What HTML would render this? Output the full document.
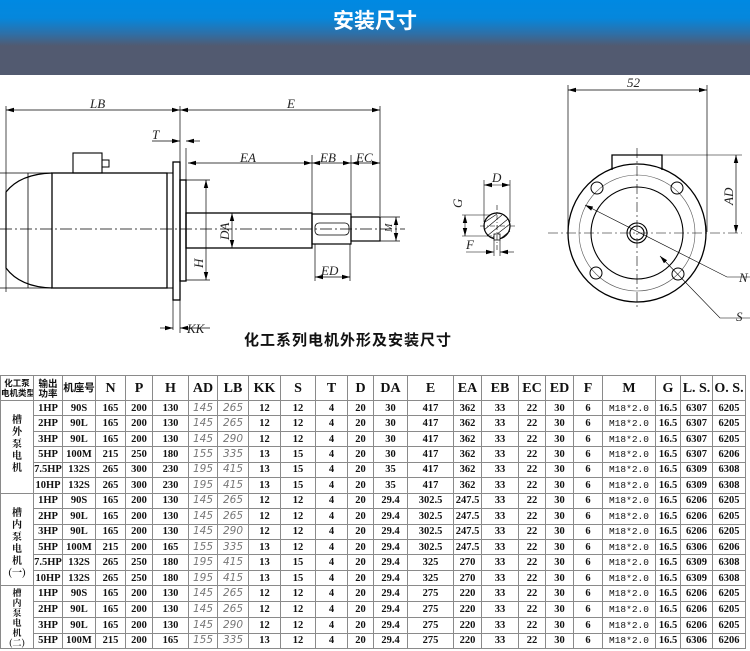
<!DOCTYPE html>
<html><head><meta charset="utf-8">
<style>
*{margin:0;padding:0;box-sizing:border-box}
body{width:750px;height:651px;background:#fff;position:relative;overflow:hidden;font-family:"Liberation Serif","Noto Serif CJK SC",serif}
#hdr{position:absolute;left:0;top:0;width:750px;height:75px;background:linear-gradient(#0089e2 0px,#0587dc 18px,#2f6fa6 34px,#525a70 46px,#525a70 75px)}
#hdr div{position:absolute;left:0;width:750px;top:5px;text-align:center;color:#fff;font:bold 21px "Noto Sans CJK SC",sans-serif}
svg{position:absolute;left:0;top:0}
#ttl{position:absolute;left:200px;width:296px;top:329px;text-align:center;font:bold 15px "Noto Sans CJK SC",sans-serif;color:#111;letter-spacing:1px}
table{position:absolute;left:0;top:375px;width:746px;border-collapse:collapse;table-layout:fixed}
td{border:1.5px solid #8a8a8a;text-align:center;font-weight:bold;font-size:10.5px;color:#111;height:15.44px;padding:0;line-height:13px;white-space:nowrap;overflow:hidden}
tr.h td{height:25px;font-size:14px}
tr.h td.c{font-size:9.5px;font-family:"Noto Sans CJK SC",sans-serif;line-height:10px;text-align:center}
td.g{font-style:italic;font-weight:normal;color:#777;font-family:"DejaVu Sans",sans-serif;font-size:10.5px}
td.grp{font-family:"Noto Serif CJK SC",serif;font-size:10px;line-height:12px;vertical-align:top;padding-top:12px}
td.m{font-size:9.5px;font-weight:normal;font-family:"Liberation Mono",monospace}
</style></head><body>
<div id="hdr"><div>安装尺寸</div></div>
<svg width="750" height="375" viewBox="0 0 750 375">
<defs><marker id="a" markerWidth="8" markerHeight="6" refX="8" refY="3" orient="auto-start-reverse" markerUnits="userSpaceOnUse"><path d="M0,0.8 L8,3 L0,5.2z" fill="#000"/></marker></defs>
<g fill="none" stroke="#000" stroke-width="1">
<line x1="6" y1="106" x2="6" y2="292" stroke-width="0.7"/>
<line x1="180" y1="106" x2="180" y2="333" stroke-width="0.7"/>
<line x1="380" y1="106" x2="380" y2="216" stroke-width="0.7"/>
<line x1="6" y1="110" x2="180" y2="110" stroke-width="0.7" marker-start="url(#a)" marker-end="url(#a)"/>
<line x1="180" y1="110" x2="380" y2="110" stroke-width="0.7" marker-start="url(#a)" marker-end="url(#a)"/>
<line x1="0" y1="173" x2="52" y2="173" stroke-width="0.7"/>
<line x1="0" y1="288" x2="52" y2="288" stroke-width="0.7"/>
<path d="M52,173 Q20,174 6,192 L6,268 Q20,287 52,288" stroke-width="1.2"/>
<line x1="28" y1="173" x2="28" y2="288" stroke-width="0.8"/>
<rect x="52" y="173" width="115" height="115" stroke-width="1.3"/>
<line x1="167" y1="173" x2="173" y2="173"/><line x1="167" y1="288" x2="173" y2="288"/>
<rect x="73" y="153" width="29" height="20" stroke-width="1.1"/>
<rect x="102" y="160" width="7" height="7" stroke-width="1"/>
<rect x="173" y="162" width="7" height="138" stroke-width="1.3"/>
<rect x="180" y="180" width="6" height="101" stroke-width="1.3"/>
<rect x="186" y="213" width="126" height="35" stroke-width="1.3"/>
<rect x="312" y="214" width="39" height="30" stroke-width="1.2"/>
<rect x="315" y="223" width="34" height="12" rx="4" stroke-width="0.8"/>
<rect x="351" y="217" width="29" height="24" stroke-width="1.2"/>
<line x1="0" y1="229" x2="405" y2="229" stroke-width="0.7" stroke-dasharray="12,3,2,3"/>
<line x1="186" y1="148" x2="186" y2="180" stroke-width="0.7"/>
<line x1="312" y1="155" x2="312" y2="213" stroke-width="0.7"/>
<line x1="351" y1="155" x2="351" y2="217" stroke-width="0.7"/>
<line x1="152" y1="141" x2="180" y2="141" stroke-width="0.7" marker-end="url(#a)"/>
<line x1="200" y1="141" x2="186" y2="141" stroke-width="0.7" marker-end="url(#a)"/>
<line x1="188" y1="163" x2="312" y2="163" stroke-width="0.7" marker-start="url(#a)" marker-end="url(#a)"/>
<line x1="312" y1="163" x2="351" y2="163" stroke-width="0.7" marker-start="url(#a)" marker-end="url(#a)"/>
<line x1="351" y1="163" x2="380" y2="163" stroke-width="0.7" marker-start="url(#a)" marker-end="url(#a)"/>
<line x1="186" y1="180" x2="210" y2="180" stroke-width="0.7"/>
<line x1="186" y1="280" x2="210" y2="280" stroke-width="0.7"/>
<line x1="206" y1="180" x2="206" y2="280" stroke-width="0.7" marker-start="url(#a)" marker-end="url(#a)"/>
<line x1="232" y1="213" x2="232" y2="248" stroke-width="0.7" marker-start="url(#a)" marker-end="url(#a)"/>
<line x1="315" y1="244" x2="315" y2="281" stroke-width="0.7"/>
<line x1="350" y1="244" x2="350" y2="281" stroke-width="0.7"/>
<line x1="315" y1="277" x2="350" y2="277" stroke-width="0.7" marker-start="url(#a)" marker-end="url(#a)"/>
<line x1="380" y1="217" x2="400" y2="217" stroke-width="0.7"/>
<line x1="380" y1="241" x2="400" y2="241" stroke-width="0.7"/>
<line x1="396" y1="217" x2="396" y2="241" stroke-width="0.7" marker-start="url(#a)" marker-end="url(#a)"/>
<line x1="173" y1="300" x2="173" y2="330" stroke-width="0.7"/>
<line x1="160" y1="328" x2="173" y2="328" stroke-width="0.7" marker-end="url(#a)"/>
<line x1="210" y1="328" x2="180" y2="328" stroke-width="0.7" marker-end="url(#a)"/>
<circle cx="497" cy="226" r="13" stroke-width="1.2"/>
<path d="M485,222 L497,214 M484,230 L502,215 M487,236 L508,219 M492,238 L510,224 M500,239 L510,231" stroke-width="0.6"/>
<rect x="494" y="234" width="6" height="6" fill="#fff" stroke-width="0.8"/>
<line x1="480" y1="226" x2="515" y2="226" stroke-width="0.6" stroke-dasharray="5,2,1,2"/>
<line x1="497" y1="205" x2="497" y2="252" stroke-width="0.6" stroke-dasharray="5,2,1,2"/>
<line x1="484" y1="180" x2="484" y2="222" stroke-width="0.6"/>
<line x1="510" y1="180" x2="510" y2="222" stroke-width="0.6"/>
<line x1="484" y1="185" x2="510" y2="185" stroke-width="0.6" marker-start="url(#a)" marker-end="url(#a)"/>
<line x1="462" y1="215" x2="490" y2="215" stroke-width="0.6"/>
<line x1="462" y1="236" x2="492" y2="236" stroke-width="0.6"/>
<line x1="465" y1="215" x2="465" y2="236" stroke-width="0.6" marker-start="url(#a)" marker-end="url(#a)"/>
<line x1="494" y1="240" x2="494" y2="256" stroke-width="0.6"/><line x1="500" y1="240" x2="500" y2="256" stroke-width="0.6"/>
<line x1="466" y1="252" x2="494" y2="252" stroke-width="0.6" marker-end="url(#a)"/>
<line x1="514" y1="252" x2="500" y2="252" stroke-width="0.6" marker-end="url(#a)"/>
<line x1="568" y1="85" x2="568" y2="232" stroke-width="0.7"/>
<line x1="707" y1="85" x2="707" y2="232" stroke-width="0.7"/>
<line x1="568" y1="90" x2="707" y2="90" stroke-width="0.7" marker-start="url(#a)" marker-end="url(#a)"/>
<path d="M612,170 L612,155 L662,155 L662,170" stroke-width="1.3"/>
<circle cx="637" cy="233" r="69" stroke-width="1.3"/>
<circle cx="637" cy="233" r="58" stroke-width="0.6" stroke="#555"/>
<circle cx="637" cy="233" r="46" stroke-width="1.1"/>
<circle cx="637" cy="233" r="10" stroke-width="1.1"/>
<circle cx="637" cy="233" r="7" stroke-width="1.1"/>
<circle cx="597" cy="188" r="6"/><circle cx="677" cy="188" r="6"/>
<circle cx="596" cy="273" r="6"/><circle cx="678" cy="274" r="6"/>
<line x1="548" y1="233" x2="742" y2="233" stroke-width="0.6" stroke-dasharray="10,3,2,3"/>
<line x1="637" y1="148" x2="637" y2="310" stroke-width="0.6" stroke-dasharray="10,3,2,3"/>
<line x1="662" y1="155" x2="742" y2="155" stroke-width="0.6"/>
<line x1="736" y1="155" x2="736" y2="233" stroke-width="0.7" marker-start="url(#a)" marker-end="url(#a)"/>
<path d="M585,205 L727,277 L750,277" stroke-width="0.6" marker-start="url(#a)"/>
<path d="M660,256 L720,318 L750,318" stroke-width="0.6" marker-start="url(#a)"/>
</g>
<g font-family="Liberation Serif" font-style="italic" font-size="13" fill="#222">
<text x="90" y="108">LB</text>
<text x="287" y="108">E</text>
<text x="152" y="139">T</text>
<text x="240" y="162">EA</text>
<text x="320" y="162">EB</text>
<text x="356" y="162">EC</text>
<text x="321" y="275">ED</text>
<text x="187" y="333">KK</text>
<text transform="translate(203,268) rotate(-90)">H</text>
<text transform="translate(229,240) rotate(-90)">DA</text>
<text transform="translate(392,232) rotate(-90)" font-size="10">M</text>
<text x="492" y="182">D</text>
<text transform="translate(462,208) rotate(-90)">G</text>
<text x="466" y="249">F</text>
<text x="627" y="87">52</text>
<text transform="translate(733,205) rotate(-90)">AD</text>
<text x="739" y="282">N</text>
<text x="736" y="321">S</text>
</g>
</svg>
<div id="ttl">化工系列电机外形及安装尺寸</div>
<table>
<colgroup><col style="width:33px"><col style="width:29px"><col style="width:33px"><col style="width:30px"><col style="width:27px"><col style="width:36px"><col style="width:29px"><col style="width:31px"><col style="width:32px"><col style="width:35px"><col style="width:32px"><col style="width:26px"><col style="width:34px"><col style="width:46px"><col style="width:28px"><col style="width:37px"><col style="width:27px"><col style="width:28px"><col style="width:29px"><col style="width:53px"><col style="width:25px"><col style="width:32px"><col style="width:33px"></colgroup>
<tr class="h"><td class="c" style="font-size:8.5px">化工泵<br>电机类型</td><td class="c">输出<br>功率</td><td class="c" style="font-size:10.5px">机座号</td><td>N</td><td>P</td><td>H</td><td>AD</td><td>LB</td><td>KK</td><td>S</td><td>T</td><td>D</td><td>DA</td><td>E</td><td>EA</td><td>EB</td><td>EC</td><td>ED</td><td>F</td><td>M</td><td>G</td><td>L. S.</td><td>O. S.</td></tr>
<tr><td class="grp" rowspan="6">槽<br>外<br>泵<br>电<br>机</td><td>1HP</td><td>90S</td><td>165</td><td>200</td><td>130</td><td class="g">145</td><td class="g">265</td><td>12</td><td>12</td><td>4</td><td>20</td><td>30</td><td>417</td><td>362</td><td>33</td><td>22</td><td>30</td><td>6</td><td class="m">M18*2.0</td><td>16.5</td><td>6307</td><td>6205</td></tr>
<tr><td>2HP</td><td>90L</td><td>165</td><td>200</td><td>130</td><td class="g">145</td><td class="g">265</td><td>12</td><td>12</td><td>4</td><td>20</td><td>30</td><td>417</td><td>362</td><td>33</td><td>22</td><td>30</td><td>6</td><td class="m">M18*2.0</td><td>16.5</td><td>6307</td><td>6205</td></tr>
<tr><td>3HP</td><td>90L</td><td>165</td><td>200</td><td>130</td><td class="g">145</td><td class="g">290</td><td>12</td><td>12</td><td>4</td><td>20</td><td>30</td><td>417</td><td>362</td><td>33</td><td>22</td><td>30</td><td>6</td><td class="m">M18*2.0</td><td>16.5</td><td>6307</td><td>6205</td></tr>
<tr><td>5HP</td><td>100M</td><td>215</td><td>250</td><td>180</td><td class="g">155</td><td class="g">335</td><td>13</td><td>15</td><td>4</td><td>20</td><td>30</td><td>417</td><td>362</td><td>33</td><td>22</td><td>30</td><td>6</td><td class="m">M18*2.0</td><td>16.5</td><td>6307</td><td>6206</td></tr>
<tr><td>7.5HP</td><td>132S</td><td>265</td><td>300</td><td>230</td><td class="g">195</td><td class="g">415</td><td>13</td><td>15</td><td>4</td><td>20</td><td>35</td><td>417</td><td>362</td><td>33</td><td>22</td><td>30</td><td>6</td><td class="m">M18*2.0</td><td>16.5</td><td>6309</td><td>6308</td></tr>
<tr><td>10HP</td><td>132S</td><td>265</td><td>300</td><td>230</td><td class="g">195</td><td class="g">415</td><td>13</td><td>15</td><td>4</td><td>20</td><td>35</td><td>417</td><td>362</td><td>33</td><td>22</td><td>30</td><td>6</td><td class="m">M18*2.0</td><td>16.5</td><td>6309</td><td>6308</td></tr>
<tr><td class="grp" rowspan="6">槽<br>内<br>泵<br>电<br>机<br>(一)</td><td>1HP</td><td>90S</td><td>165</td><td>200</td><td>130</td><td class="g">145</td><td class="g">265</td><td>12</td><td>12</td><td>4</td><td>20</td><td>29.4</td><td>302.5</td><td>247.5</td><td>33</td><td>22</td><td>30</td><td>6</td><td class="m">M18*2.0</td><td>16.5</td><td>6206</td><td>6205</td></tr>
<tr><td>2HP</td><td>90L</td><td>165</td><td>200</td><td>130</td><td class="g">145</td><td class="g">265</td><td>12</td><td>12</td><td>4</td><td>20</td><td>29.4</td><td>302.5</td><td>247.5</td><td>33</td><td>22</td><td>30</td><td>6</td><td class="m">M18*2.0</td><td>16.5</td><td>6206</td><td>6205</td></tr>
<tr><td>3HP</td><td>90L</td><td>165</td><td>200</td><td>130</td><td class="g">145</td><td class="g">290</td><td>12</td><td>12</td><td>4</td><td>20</td><td>29.4</td><td>302.5</td><td>247.5</td><td>33</td><td>22</td><td>30</td><td>6</td><td class="m">M18*2.0</td><td>16.5</td><td>6206</td><td>6205</td></tr>
<tr><td>5HP</td><td>100M</td><td>215</td><td>200</td><td>165</td><td class="g">155</td><td class="g">335</td><td>13</td><td>12</td><td>4</td><td>20</td><td>29.4</td><td>302.5</td><td>247.5</td><td>33</td><td>22</td><td>30</td><td>6</td><td class="m">M18*2.0</td><td>16.5</td><td>6306</td><td>6206</td></tr>
<tr><td>7.5HP</td><td>132S</td><td>265</td><td>250</td><td>180</td><td class="g">195</td><td class="g">415</td><td>13</td><td>15</td><td>4</td><td>20</td><td>29.4</td><td>325</td><td>270</td><td>33</td><td>22</td><td>30</td><td>6</td><td class="m">M18*2.0</td><td>16.5</td><td>6309</td><td>6308</td></tr>
<tr><td>10HP</td><td>132S</td><td>265</td><td>250</td><td>180</td><td class="g">195</td><td class="g">415</td><td>13</td><td>15</td><td>4</td><td>20</td><td>29.4</td><td>325</td><td>270</td><td>33</td><td>22</td><td>30</td><td>6</td><td class="m">M18*2.0</td><td>16.5</td><td>6309</td><td>6308</td></tr>
<tr><td class="grp" rowspan="4" style="padding-top:2px;font-size:9px;line-height:10px">槽<br>内<br>泵<br>电<br>机<br>(二)</td><td>1HP</td><td>90S</td><td>165</td><td>200</td><td>130</td><td class="g">145</td><td class="g">265</td><td>12</td><td>12</td><td>4</td><td>20</td><td>29.4</td><td>275</td><td>220</td><td>33</td><td>22</td><td>30</td><td>6</td><td class="m">M18*2.0</td><td>16.5</td><td>6206</td><td>6205</td></tr>
<tr><td>2HP</td><td>90L</td><td>165</td><td>200</td><td>130</td><td class="g">145</td><td class="g">265</td><td>12</td><td>12</td><td>4</td><td>20</td><td>29.4</td><td>275</td><td>220</td><td>33</td><td>22</td><td>30</td><td>6</td><td class="m">M18*2.0</td><td>16.5</td><td>6206</td><td>6205</td></tr>
<tr><td>3HP</td><td>90L</td><td>165</td><td>200</td><td>130</td><td class="g">145</td><td class="g">290</td><td>12</td><td>12</td><td>4</td><td>20</td><td>29.4</td><td>275</td><td>220</td><td>33</td><td>22</td><td>30</td><td>6</td><td class="m">M18*2.0</td><td>16.5</td><td>6206</td><td>6205</td></tr>
<tr><td>5HP</td><td>100M</td><td>215</td><td>200</td><td>165</td><td class="g">155</td><td class="g">335</td><td>13</td><td>12</td><td>4</td><td>20</td><td>29.4</td><td>275</td><td>220</td><td>33</td><td>22</td><td>30</td><td>6</td><td class="m">M18*2.0</td><td>16.5</td><td>6306</td><td>6206</td></tr>
</table>
</body></html>
